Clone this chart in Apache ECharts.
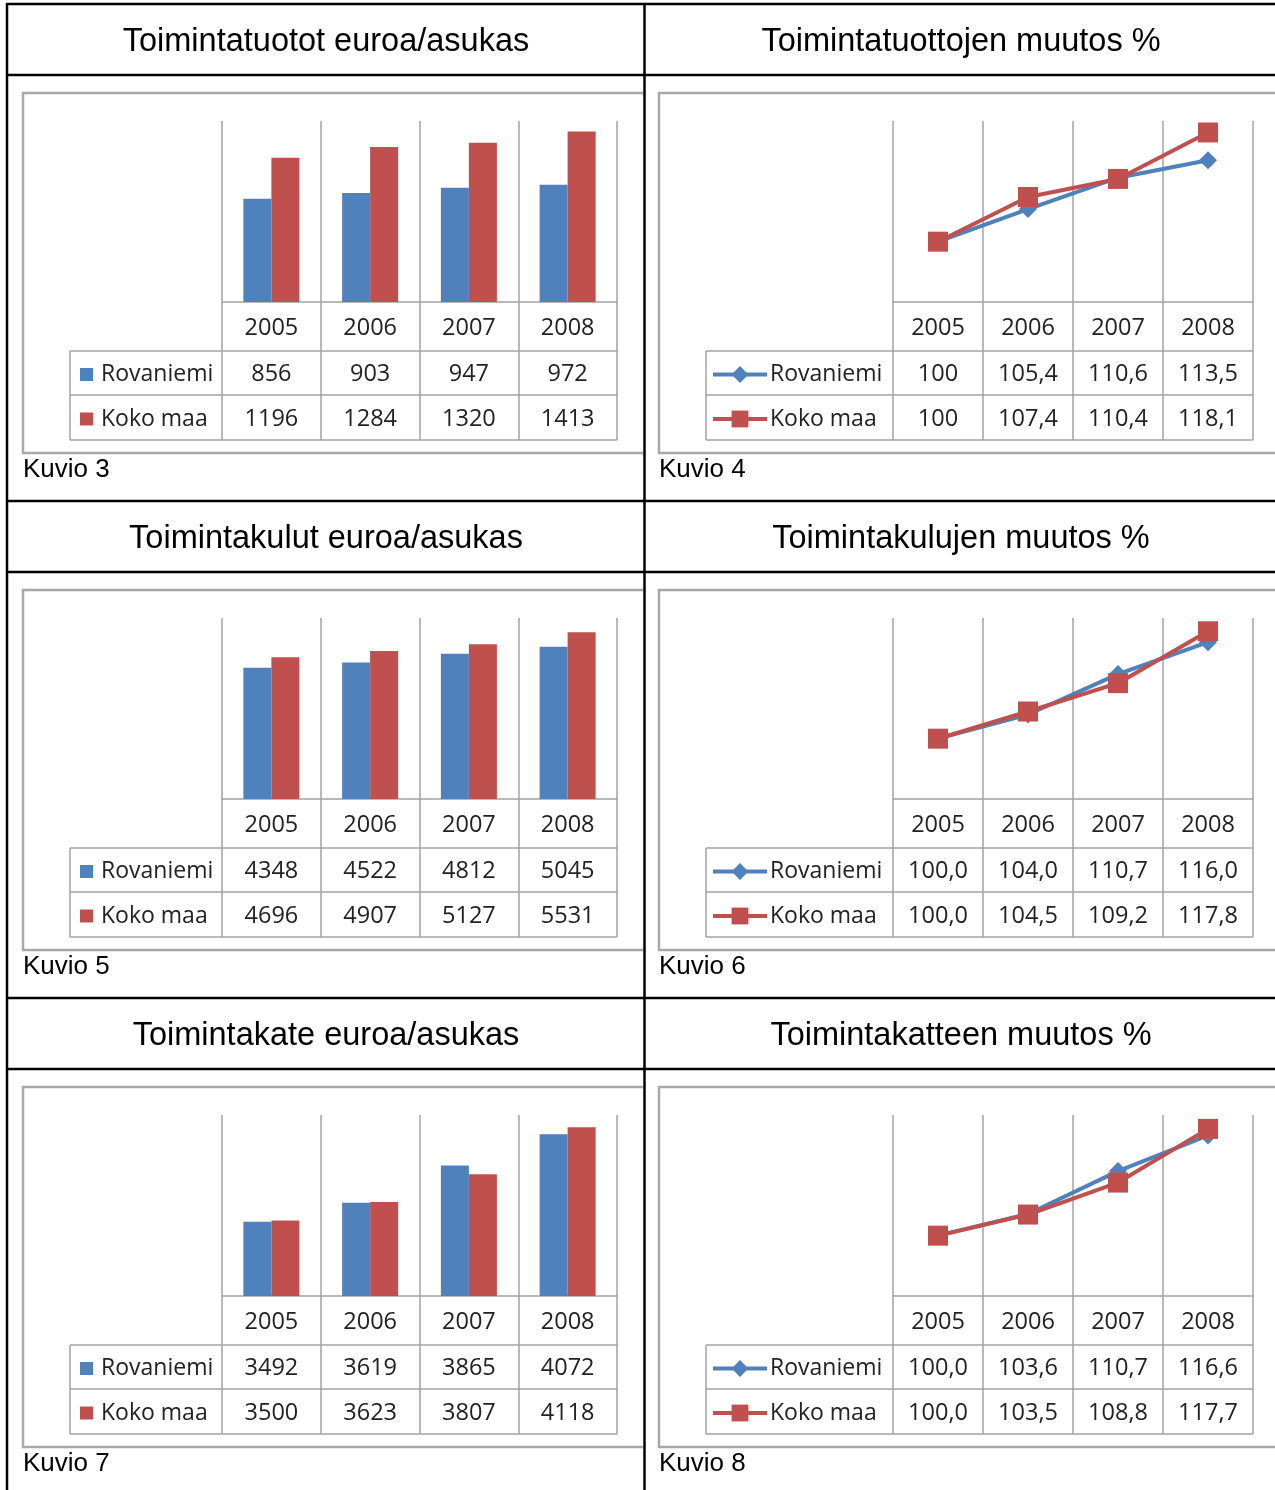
<!DOCTYPE html>
<html><head><meta charset="utf-8">
<script src="https://cdn.jsdelivr.net/npm/echarts@6/dist/echarts.min.js"></script>
<style>html,body{margin:0;padding:0;background:#fff}#c{width:1275px;height:1490px}</style>
</head><body><div id="c"></div>
<script>
const years = ['2005', '2006', '2007', '2008'];
const seriesNames = ['Rovaniemi', 'Koko maa'];
const titles = ['Toimintatuotot euroa/asukas', 'Toimintatuottojen muutos %',
  'Toimintakulut euroa/asukas', 'Toimintakulujen muutos %',
  'Toimintakate euroa/asukas', 'Toimintakatteen muutos %'];
const figureLabels = ['Kuvio 3', 'Kuvio 4', 'Kuvio 5', 'Kuvio 6', 'Kuvio 7', 'Kuvio 8'];

const tuototRov = [856, 903, 947, 972];
const tuototKoko = [1196, 1284, 1320, 1413];
const tuototMuutosRov = [100, 105.4, 110.6, 113.5];
const tuototMuutosKoko = [100, 107.4, 110.4, 118.1];
const kulutRov = [4348, 4522, 4812, 5045];
const kulutKoko = [4696, 4907, 5127, 5531];
const kulutMuutosRov = [100.0, 104.0, 110.7, 116.0];
const kulutMuutosKoko = [100.0, 104.5, 109.2, 117.8];
const kateRov = [3492, 3619, 3865, 4072];
const kateKoko = [3500, 3623, 3807, 4118];
const kateMuutosRov = [100.0, 103.6, 110.7, 116.6];
const kateMuutosKoko = [100.0, 103.5, 108.8, 117.7];

const fmtInt = v => String(v);
const fmtTrim = v => Number.isInteger(v) ? String(v) : v.toFixed(1).replace('.', ',');
const fmtFixed = v => v.toFixed(1).replace('.', ',');

const panels = [
  {type: 'bar', rov: tuototRov, koko: tuototKoko, min: 0, max: 1500, fmt: fmtInt},
  {type: 'line', rov: tuototMuutosRov, koko: tuototMuutosKoko, min: 90, max: 120, fmt: fmtTrim},
  {type: 'bar', rov: kulutRov, koko: kulutKoko, min: 0, max: 6000, fmt: fmtInt},
  {type: 'line', rov: kulutMuutosRov, koko: kulutMuutosKoko, min: 90, max: 120, fmt: fmtFixed},
  {type: 'bar', rov: kateRov, koko: kateKoko, min: 3000, max: 4200, fmt: fmtInt},
  {type: 'line', rov: kateMuutosRov, koko: kateMuutosKoko, min: 90, max: 120, fmt: fmtFixed}
];

const BLUE = '#4F81BD', RED = '#C0504D', GRID = '#a3a3a3', FRAME = '#a8a8a8';
const TXT = '#222';
const TFONT = 'Open Sans';
const cols = [
  {gridLeft: 222, gridWidth: 395, tableLeft: 70, frameX0: 23, frameX1: 643, titleX: 326, kuvioX: 23, legendLeft: 75},
  {gridLeft: 893, gridWidth: 360, tableLeft: 706, frameX0: 659, frameX1: 1290, titleX: 961, kuvioX: 659, legendLeft: 706}
];
const ROWH = 497;

const grid = [], xAxis = [], yAxis = [], series = [], legend = [], graphic = [];

function hline(x1, x2, y, color, w, z) {
  graphic.push({type: 'line', silent: true, z: z || 1, shape: {x1, y1: y, x2, y2: y}, style: {stroke: color, lineWidth: w}});
}
function vline(x, y1, y2, color, w, z) {
  graphic.push({type: 'line', silent: true, z: z || 1, shape: {x1: x, y1, x2: x, y2}, style: {stroke: color, lineWidth: w}});
}

panels.forEach((p, i) => {
  const c = cols[i % 2];
  const off = Math.floor(i / 2) * ROWH;
  grid.push({left: c.gridLeft, top: 121 + off, width: c.gridWidth, height: 181, containLabel: false});
  const rov = p.rov, koko = p.koko, fmt = p.fmt;
  xAxis.push({
    type: 'category', gridIndex: i, data: years, boundaryGap: true,
    axisLine: {show: true, lineStyle: {color: GRID, width: 1.5}},
    axisTick: {show: true, length: 138, lineStyle: {color: GRID, width: 1.5}},
    splitLine: {show: true, lineStyle: {color: GRID, width: 1.5}},
    axisLabel: {
      interval: 0, margin: 2.5,
      formatter: (val, idx) => '{y|' + val + '}\n{a|' + fmt(rov[idx]) + '}\n{b|' + fmt(koko[idx]) + '}',
      rich: {
        y: {fontSize: 23.5, fontFamily: TFONT, color: TXT, lineHeight: 48, align: 'center'},
        a: {fontSize: 23.5, fontFamily: TFONT, color: TXT, lineHeight: 44.5, align: 'center'},
        b: {fontSize: 23.5, fontFamily: TFONT, color: TXT, lineHeight: 44.5, align: 'center'}
      }
    }
  });
  yAxis.push({type: 'value', gridIndex: i, min: p.min, max: p.max, show: false, splitLine: {show: false}});
  const n0 = seriesNames[0] + '#' + i, n1 = seriesNames[1] + '#' + i;
  if (p.type === 'bar') {
    series.push({name: n0, type: 'bar', xAxisIndex: i, yAxisIndex: i, data: rov, barWidth: 28, barGap: '0%', itemStyle: {color: BLUE}});
    series.push({name: n1, type: 'bar', xAxisIndex: i, yAxisIndex: i, data: koko, barWidth: 28, barGap: '0%', itemStyle: {color: RED}});
  } else {
    series.push({name: n0, type: 'line', xAxisIndex: i, yAxisIndex: i, data: rov, symbol: 'diamond', symbolSize: 18,
      lineStyle: {color: BLUE, width: 4}, itemStyle: {color: BLUE}, z: 3});
    series.push({name: n1, type: 'line', xAxisIndex: i, yAxisIndex: i, data: koko, symbol: 'rect', symbolSize: 20,
      lineStyle: {color: RED, width: 4}, itemStyle: {color: RED}, z: 4});
  }
  legend.push({
    data: [n0, n1], orient: 'vertical', left: c.legendLeft, top: 358 + off,
    itemGap: 21.5, selectedMode: false,
    itemWidth: p.type === 'bar' ? 13 : 54, itemHeight: p.type === 'bar' ? 13 : 21,
    icon: p.type === 'bar' ? 'rect' : undefined,
    lineStyle: {width: 4},
    formatter: name => name.split('#')[0],
    textStyle: {fontSize: 23, fontFamily: TFONT, color: TXT, padding: p.type === 'bar' ? [0, 0, 0, 3] : [0, 0, 0, -2]}
  });
  const gr = c.gridLeft + c.gridWidth;
  [351, 395, 440].forEach(y => hline(c.tableLeft, gr, y + off, GRID, 1.5));
  vline(c.tableLeft, 351 + off, 440 + off, GRID, 1.5);
  graphic.push({type: 'polyline', silent: true, z: 1,
    shape: {points: [[c.frameX1, 93 + off], [c.frameX0, 93 + off], [c.frameX0, 453 + off], [c.frameX1, 453 + off]]},
    style: {stroke: FRAME, lineWidth: 2.5, fill: null}});
  graphic.push({type: 'text', silent: true, z: 5, x: c.titleX, y: 42 + off,
    style: {text: titles[i], font: '32.5px "Liberation Sans", Arial, sans-serif', fill: '#000', align: 'center', verticalAlign: 'middle'}});
  graphic.push({type: 'text', silent: true, z: 5, x: c.kuvioX, y: 470 + off,
    style: {text: figureLabels[i], font: '26px "Liberation Sans", Arial, sans-serif', fill: '#000', align: 'left', verticalAlign: 'middle'}});
});

[4, 75, 501, 572, 998, 1069].forEach(y => hline(6, 1275, y, '#000', 2.5, 10));
vline(7, 3, 1490, '#000', 2.5, 10);
vline(644.5, 3, 1490, '#000', 2.5, 10);

const chart = echarts.init(document.getElementById('c'), null, {renderer: 'canvas'});
chart.setOption({
  animation: false,
  backgroundColor: '#fff',
  grid, xAxis, yAxis, series, legend, graphic
});
</script></body></html>
